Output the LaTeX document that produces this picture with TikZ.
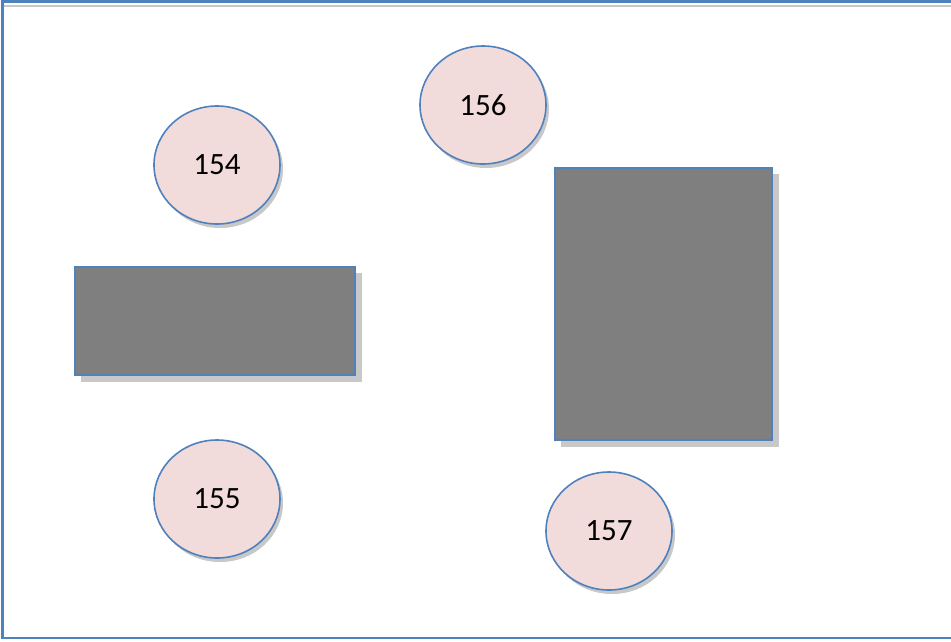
\documentclass[tikz,border=0pt]{standalone}
\usepackage{fontspec}
\setmainfont{Carlito}
\usetikzlibrary{shapes.geometric}
\definecolor{edgeblue}{RGB}{79,129,189}
\definecolor{pinkfill}{RGB}{242,220,219}
\definecolor{boxgrey}{RGB}{127,127,127}
\definecolor{shadowgrey}{RGB}{200,200,200}
\tikzset{
  table/.style={ellipse, draw=edgeblue, line width=1.6pt, fill=pinkfill,
    minimum width=126pt, minimum height=118pt, inner sep=0pt,
    font=\fontsize{31}{36}\selectfont},
  tshadow/.style={ellipse, fill=shadowgrey, draw=none,
    minimum width=126pt, minimum height=118pt, inner sep=0pt},
  block/.style={draw=edgeblue, line width=1.8pt, fill=boxgrey},
  bshadow/.style={fill=shadowgrey, draw=none},
  frame/.style={draw=edgeblue, line width=2.4pt}
}
\begin{document}
\begin{tikzpicture}[x=1pt,y=-1pt]
\useasboundingbox (0,0) rectangle (951,641);
\fill[white] (0,0) rectangle (951,641);
% frame
\draw[shadowgrey, line width=2pt] (4,5.5) -- (951,5.5);
\draw[frame] (951,1.5) -- (2.5,1.5) -- (2.5,638) -- (951,638);
% shadows of blocks
\fill[bshadow] (81,273) rectangle (362,382);
\fill[bshadow] (561,174) rectangle (779,447);
% blocks
\draw[block] (75,267) rectangle (355,375);
\draw[block] (555,168) rectangle (772,440);
% table shadows
\node[tshadow] at (220,169) {};
\node[tshadow] at (486,109) {};
\node[tshadow] at (220,503) {};
\node[tshadow] at (612,535) {};
% tables
\node[table] (t154) at (217,165) {154};
\node[table] (t156) at (483,105) {156};
\node[table] (t155) at (217,499) {155};
\node[table] (t157) at (609,531) {157};
\end{tikzpicture}
\end{document}
